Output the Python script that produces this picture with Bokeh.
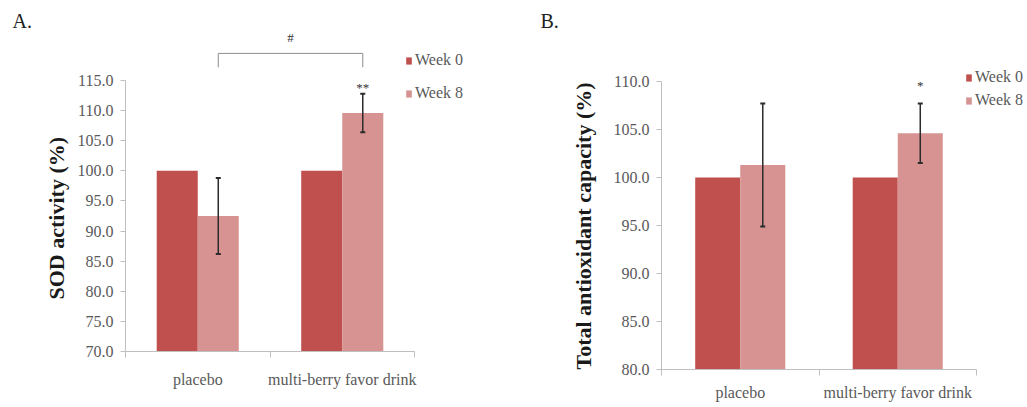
from bokeh.plotting import figure
from bokeh.layouts import row, column
from bokeh.models import (ColumnDataSource, Whisker, TeeHead, Legend, LegendItem,
                          Title, Range1d, FixedTicker, NumeralTickFormatter)
from bokeh.embed import file_html
from bokeh.resources import INLINE

# ---- data -------------------------------------------------------------
groups = ["placebo", "multi-berry favor drink"]
series = ["Week 0", "Week 8"]

sod_week0 = [100.0, 100.0]
sod_week8 = [92.5, 109.6]
sod_week8_err = [6.3, 3.2]
sod_ticks = [70, 75, 80, 85, 90, 95, 100, 105, 110, 115]

tac_week0 = [100.0, 100.0]
tac_week8 = [101.3, 104.6]
tac_week8_err = [6.4, 3.1]
tac_ticks = [80, 85, 90, 95, 100, 105, 110]

# ---- style / layout ---------------------------------------------------
DARK = "#C0504D"
LIGHT = "#D69391"
AXIS = "#BFBFBF"
TEXT = "#595959"
FONT = "Liberation Serif"
FIG_H = 407
TOP = 32          # top border (panel letter sits here)


def panel(tag, ylabel, w0, w8, err, ticks, mark, *, width, left, bottom,
          px_unit, px_group, bar_w, legend_xy, legend_gap, mark_gap,
          tag_offset, title_offset, title_standoff, label_standoff, bracket=None):
    y_lo, y_hi = ticks[0], ticks[-1]
    frame_w = width - left
    frame_h = FIG_H - TOP - bottom
    p = figure(width=width, height=FIG_H,
               x_range=Range1d(0, frame_w / px_group),
               y_range=Range1d(y_lo, y_lo + frame_h / px_unit),
               min_border_left=left, min_border_right=0,
               min_border_top=TOP, min_border_bottom=bottom,
               output_backend="svg", toolbar_location=None)
    p.outline_line_color = None
    p.xgrid.grid_line_color = None
    p.ygrid.grid_line_color = None
    p.background_fill_color = "white"
    p.border_fill_color = "white"

    # panel letter
    p.title.text = tag
    p.title.align = "left"
    p.title.offset = tag_offset
    p.title.standoff = 2
    p.title.text_font = FONT
    p.title.text_font_size = "20px"
    p.title.text_font_style = "normal"
    p.title.text_color = "#222222"

    centers = [i + 0.5 for i in range(len(groups))]
    x0 = [c - bar_w / 2 for c in centers]
    x8 = [c + bar_w / 2 for c in centers]

    r0 = p.vbar(x=x0, top=w0, bottom=y_lo, width=bar_w,
                fill_color=DARK, line_color=None)
    r8 = p.vbar(x=x8, top=w8, bottom=y_lo, width=bar_w,
                fill_color=LIGHT, line_color=None)

    src = ColumnDataSource(dict(
        x=x8,
        upper=[v + e for v, e in zip(w8, err)],
        lower=[v - e for v, e in zip(w8, err)]))
    p.add_layout(Whisker(base="x", upper="upper", lower="lower", source=src,
                         level="overlay",
                         line_color="#2b2b2b", line_width=1.5,
                         upper_head=TeeHead(size=5, line_color="#2b2b2b", line_width=2),
                         lower_head=TeeHead(size=5, line_color="#2b2b2b", line_width=2)))

    # significance mark above the treated group's error bar
    p.text(x=[x8[1]], y=[w8[1] + err[1] + mark_gap], text=[mark],
           text_align="center", text_baseline="middle",
           text_font=FONT, text_font_size="13px", text_color="#333333")

    if bracket is not None:
        lo, hi, sym_y = bracket
        p.line(x=[x8[0], x8[0], x8[1], x8[1]], y=[lo, hi, hi, lo],
               line_color="#8c8c8c", line_width=1)
        p.text(x=[(x8[0] + x8[1]) / 2], y=[sym_y], text=["#"],
               text_align="center", text_baseline="middle",
               text_font=FONT, text_font_size="13px", text_color="#333333")

    # y axis (its title is a side title so it can sit beside the bounded axis)
    ya = p.yaxis[0]
    ya.bounds = (y_lo, y_hi)
    ya.ticker = FixedTicker(ticks=ticks, minor_ticks=[])
    ya.formatter = NumeralTickFormatter(format="0.0")
    ya.axis_line_color = AXIS
    ya.major_tick_line_color = AXIS
    ya.major_tick_out = 5
    ya.major_tick_in = 0
    ya.major_label_standoff = 7
    ya.major_label_text_font = FONT
    ya.major_label_text_font_size = "16px"
    ya.major_label_text_color = TEXT
    p.add_layout(Title(text=ylabel, align="left", offset=title_offset,
                       standoff=title_standoff, text_font=FONT,
                       text_font_style="bold", text_font_size="22px",
                       text_color="#1a1a1a"), "left")

    # x axis: labels at group centres, ticks on group boundaries
    xa = p.xaxis[0]
    xa.bounds = (0, len(groups))
    xa.ticker = FixedTicker(ticks=centers, minor_ticks=list(range(len(groups) + 1)))
    xa.major_label_overrides = {c: g for c, g in zip(centers, groups)}
    xa.axis_line_color = AXIS
    xa.major_tick_line_color = None
    xa.major_tick_out = 0
    xa.major_tick_in = 0
    xa.minor_tick_line_color = AXIS
    xa.minor_tick_out = 6
    xa.minor_tick_in = 0
    xa.major_label_standoff = label_standoff
    xa.major_label_text_font = FONT
    xa.major_label_text_font_size = "16px"
    xa.major_label_text_color = TEXT

    legend = Legend(items=[LegendItem(label=series[0], renderers=[r0]),
                           LegendItem(label=series[1], renderers=[r8])],
                    location=legend_xy, orientation="vertical",
                    glyph_width=7, glyph_height=9, label_height=20,
                    spacing=legend_gap, padding=0, margin=0, label_standoff=3,
                    label_text_font=FONT, label_text_font_size="16px",
                    label_text_color=TEXT, border_line_color=None,
                    background_fill_alpha=0)
    p.add_layout(legend)
    return p


pa = panel("A.", "SOD activity (%)", sod_week0, sod_week8, sod_week8_err,
           sod_ticks, "**",
           width=510, left=125, bottom=56,
           px_unit=271 / 45, px_group=144.5, bar_w=0.284,
           legend_xy=(280, 248), legend_gap=13, mark_gap=1.0,
           tag_offset=-113, title_offset=52, title_standoff=12, label_standoff=13,
           bracket=(117.2, 119.5, 122.06))

pb = panel("B.", "Total antioxidant capacity (%)", tac_week0, tac_week8, tac_week8_err,
           tac_ticks, "*",
           width=517, left=151, bottom=38,
           px_unit=288 / 30, px_group=157.5, bar_w=0.286,
           legend_xy=(304, 259), legend_gap=3, mark_gap=1.9,
           tag_offset=-121, title_offset=0, title_standoff=30, label_standoff=8)

# each panel keeps its own frame geometry
layout = row(column(pa), column(pb), spacing=0)
open("out.html", "w").write(file_html(layout, INLINE))
